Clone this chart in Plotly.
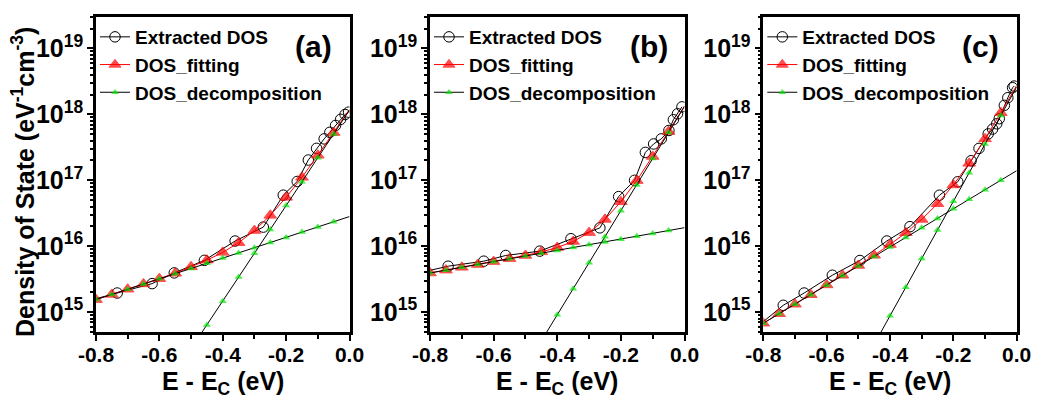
import plotly.graph_objects as go
import math

# ---------------- data ----------------
E_GRID = [-0.8, -0.75, -0.7, -0.65, -0.6, -0.55, -0.5, -0.45, -0.4, -0.35,
          -0.3, -0.25, -0.2, -0.15, -0.1, -0.05, 0.0]
E_DEEP_A = [-0.5, -0.45, -0.4, -0.35, -0.3, -0.25, -0.2, -0.15, -0.1, -0.05, 0.0]
E_DEEP_BC = [-0.45, -0.4, -0.35, -0.3, -0.25, -0.2, -0.15, -0.1, -0.05, 0.0]

# panel (a)
ext_x_a = [-0.85, -0.733, -0.623, -0.553, -0.458, -0.361, -0.272, -0.209, -0.165,
           -0.130, -0.104, -0.080, -0.062, -0.044, -0.028, -0.014, -0.003]
ext_y_a = [1.38e15, 1.95e15, 2.71e15, 3.94e15, 6.1e15, 1.2e16, 1.95e16, 5.95e16, 9.6e16,
           2.03e17, 3.05e17, 4.25e17, 5.35e17, 6.8e17, 8.4e17, 9.96e17, 1.08e18]
fit_y_a = [1.55e15, 1.86e15, 2.23e15, 2.68e15, 3.22e15, 3.89e15, 4.88e15, 6.15e15, 8.07e15,
           1.13e16, 1.73e16, 2.94e16, 5.51e16, 1.11e17, 2.4e17, 5.3e17, 1.19e18]
tail_y_a = [1.55e15, 1.86e15, 2.23e15, 2.67e15, 3.20e15, 3.84e15, 4.60e15, 5.51e15, 6.61e15,
            7.92e15, 9.50e15, 1.14e16, 1.36e16, 1.64e16, 1.96e16, 2.35e16, 2.82e16]
deep_y_a = [2.8e14, 6.4e14, 1.46e15, 3.4e15, 7.8e15, 1.8e16, 4.15e16, 9.5e16, 2.2e17,
            5.06e17, 1.16e18]

# panel (b)
ext_x_b = [-0.86, -0.743, -0.631, -0.562, -0.455, -0.357, -0.266, -0.207, -0.157,
           -0.123, -0.097, -0.073, -0.049, -0.035, -0.022, -0.008]
ext_y_b = [3.7e15, 4.98e15, 5.93e15, 7.24e15, 8.42e15, 1.3e16, 1.9e16, 5.66e16, 1.0e17,
           2.65e17, 3.56e17, 4.25e17, 5.7e17, 8.3e17, 1.02e18, 1.3e18]
fit_y_b = [3.93e15, 4.34e15, 4.79e15, 5.28e15, 5.85e15, 6.49e15, 7.25e15, 8.21e15, 9.56e15,
           1.18e16, 1.61e16, 2.55e16, 4.73e16, 9.9e16, 2.3e17, 5.5e17, 1.34e18]
tail_y_b = [3.93e15, 4.34e15, 4.79e15, 5.28e15, 5.83e15, 6.43e15, 7.10e15, 7.84e15, 8.65e15,
            9.55e15, 1.05e16, 1.16e16, 1.28e16, 1.42e16, 1.56e16, 1.73e16, 1.91e16]
deep_y_b = [3.67e14, 9.1e14, 2.27e15, 5.6e15, 1.39e16, 3.45e16, 8.5e16, 2.14e17, 5.3e17, 1.32e18]

# panel (c)
ext_x_c = [-0.82, -0.737, -0.671, -0.582, -0.495, -0.41, -0.337, -0.244, -0.186, -0.144,
           -0.119, -0.09, -0.076, -0.063, -0.055, -0.039, -0.028, -0.013, -0.008]
ext_y_c = [6.0e14, 1.27e15, 1.95e15, 3.63e15, 6.08e15, 1.2e16, 1.98e16, 5.94e16, 9.5e16, 1.98e17,
           3.05e17, 5.06e17, 6.0e17, 7.2e17, 8.6e17, 1.37e18, 1.79e18, 2.54e18, 2.69e18]
fit_y_c = [6.79e14, 9.48e14, 1.32e15, 1.84e15, 2.59e15, 3.63e15, 5.12e15, 7.30e15, 1.06e16,
           1.60e16, 2.55e16, 4.41e16, 8.5e16, 1.81e17, 4.26e17, 1.06e18, 2.75e18]
tail_y_c = [6.79e14, 9.48e14, 1.32e15, 1.84e15, 2.57e15, 3.59e15, 5.00e15, 6.98e15, 9.73e15,
            1.36e16, 1.90e16, 2.64e16, 3.69e16, 5.14e16, 7.18e16, 1.0e17, 1.40e17]
deep_y_c = [3.24e14, 8.8e14, 2.39e15, 6.5e15, 1.77e16, 4.8e16, 1.30e17, 3.54e17, 9.6e17, 2.61e18]

SERIES_NAMES = ["Extracted DOS", "DOS_fitting", "DOS_decomposition"]
PANEL_LABELS = ["(a)", "(b)", "(c)"]
X_TICKS = [-0.8, -0.6, -0.4, -0.2, 0.0]
X_TICKTEXT = ["-0.8", "-0.6", "-0.4", "-0.2", "0.0"]
Y_MIN, Y_MAX = 5e14, 3e19
X_TITLE = "E - E<sub>C</sub> (eV)"
Y_TITLE = "Density of State (eV<sup>-1</sup>cm<sup>-3</sup>)"

# ---------------- layout geometry ----------------
W, H = 1038, 405
FONT = "Liberation Sans"
panels = [
    dict(left=96, right=349.5, ext_x=ext_x_a, ext_y=ext_y_a, fit_y=fit_y_a, tail_y=tail_y_a,
         deep_x=E_DEEP_A, deep_y=deep_y_a),
    dict(left=430, right=684.5, ext_x=ext_x_b, ext_y=ext_y_b, fit_y=fit_y_b, tail_y=tail_y_b,
         deep_x=E_DEEP_BC, deep_y=deep_y_b),
    dict(left=763.3, right=1016.7, ext_x=ext_x_c, ext_y=ext_y_c, fit_y=fit_y_c, tail_y=tail_y_c,
         deep_x=E_DEEP_BC, deep_y=deep_y_c),
]
TOP, BOTTOM = 17, 332
GREEN = "#00e600"

fig = go.Figure()
layout = dict(width=W, height=H, margin=dict(l=0, r=0, t=0, b=0, autoexpand=False),
              paper_bgcolor="white", plot_bgcolor="white", showlegend=True,
              annotations=[])

def msize(xs, s):
    return [0 if x == 0 else s for x in xs]

for i, p in enumerate(panels):
    n = "" if i == 0 else str(i + 1)
    xa, ya = "x" + n, "y" + n
    leg = "legend" + n
    common = dict(xaxis=xa, yaxis=ya, legend=leg, cliponaxis=True)
    fig.add_trace(go.Scatter(x=p["ext_x"], y=p["ext_y"], mode="lines+markers",
                             name=SERIES_NAMES[0], legendgroup=f"g{i}0",
                             line=dict(color="black", width=1),
                             marker=dict(symbol="circle-open", size=10.5, color="black",
                                         line=dict(width=1, color="black")), **common))
    fig.add_trace(go.Scatter(x=E_GRID, y=p["fit_y"], mode="lines+markers",
                             name=SERIES_NAMES[1], legendgroup=f"g{i}1",
                             line=dict(color="red", width=1),
                             marker=dict(symbol="triangle-up", size=msize(E_GRID, 11), color="red",
                                         line=dict(width=1, color="red")), **common))
    fig.add_trace(go.Scatter(x=E_GRID, y=p["tail_y"], mode="lines+markers",
                             name=SERIES_NAMES[2], legendgroup=f"g{i}2",
                             line=dict(color="black", width=1),
                             marker=dict(symbol="triangle-up", size=msize(E_GRID, 7), color=GREEN,
                                         line=dict(width=0)), **common))
    fig.add_trace(go.Scatter(x=p["deep_x"], y=p["deep_y"], mode="lines+markers",
                             name=SERIES_NAMES[2], legendgroup=f"g{i}2", showlegend=False,
                             line=dict(color="black", width=1),
                             marker=dict(symbol="triangle-up", size=msize(p["deep_x"], 7), color=GREEN,
                                         line=dict(width=0)), **common))

    dom_x = [p["left"] / W, p["right"] / W]
    dom_y = [1 - BOTTOM / H, 1 - TOP / H]
    layout["xaxis" + n] = dict(
        domain=dom_x, anchor=ya, range=[-0.8, 0.0], tickvals=X_TICKS, ticktext=X_TICKTEXT,
        automargin=False, ticklabelstandoff=-4,
        ticks="outside", ticklen=6, tickwidth=2, tickcolor="black",
        showline=True, linewidth=2.5, linecolor="black", mirror=True,
        showgrid=False, zeroline=False,
        tickfont=dict(family=FONT, size=21, weight="bold", color="black"),
        minor=dict(dtick=0.1, tick0=0, ticks="outside", ticklen=4, tickwidth=2, tickcolor="black",
                   showgrid=False))
    layout["yaxis" + n] = dict(
        domain=dom_y, anchor=xa, type="log", automargin=False,
        range=[math.log10(Y_MIN), math.log10(Y_MAX)], dtick=1, exponentformat="power",
        ticks="outside", ticklen=6, tickwidth=2, tickcolor="black",
        showline=True, linewidth=2.5, linecolor="black", mirror=True,
        showgrid=False, zeroline=False,
        tickfont=dict(family=FONT, size=20, weight="bold", color="black"),
        minor=dict(dtick="D1", ticks="outside", ticklen=3, tickwidth=1.5, tickcolor="black",
                   showgrid=False))
    layout[leg] = dict(x=(p["left"] - 1) / W, y=1 - 18 / H, xanchor="left", yanchor="top",
                       bgcolor="rgba(0,0,0,0)", borderwidth=0, traceorder="grouped",
                       tracegroupgap=0, itemwidth=30,
                       font=dict(family=FONT, size=19, weight="bold", color="black"))
    cx = (p["left"] + p["right"]) / 2
    layout["annotations"].append(dict(text=X_TITLE, x=cx / W, y=1 - 383 / H, xref="paper", yref="paper",
                                      showarrow=False, xanchor="center", yanchor="middle",
                                      font=dict(family=FONT, size=25, weight="bold", color="black")))
    layout["annotations"].append(dict(text=PANEL_LABELS[i], x=(p["right"] - 36) / W, y=1 - 47 / H,
                                      xref="paper", yref="paper", showarrow=False,
                                      xanchor="center", yanchor="middle",
                                      font=dict(family=FONT, size=30, weight="bold", color="black")))

layout["annotations"].append(dict(text=Y_TITLE, x=23 / W, y=1 - 182 / H, xref="paper", yref="paper",
                                  showarrow=False, textangle=-90, xanchor="center", yanchor="middle",
                                  font=dict(family=FONT, size=25, weight="bold", color="black")))

fig.update_layout(**layout)
fig.write_html("out.html")
